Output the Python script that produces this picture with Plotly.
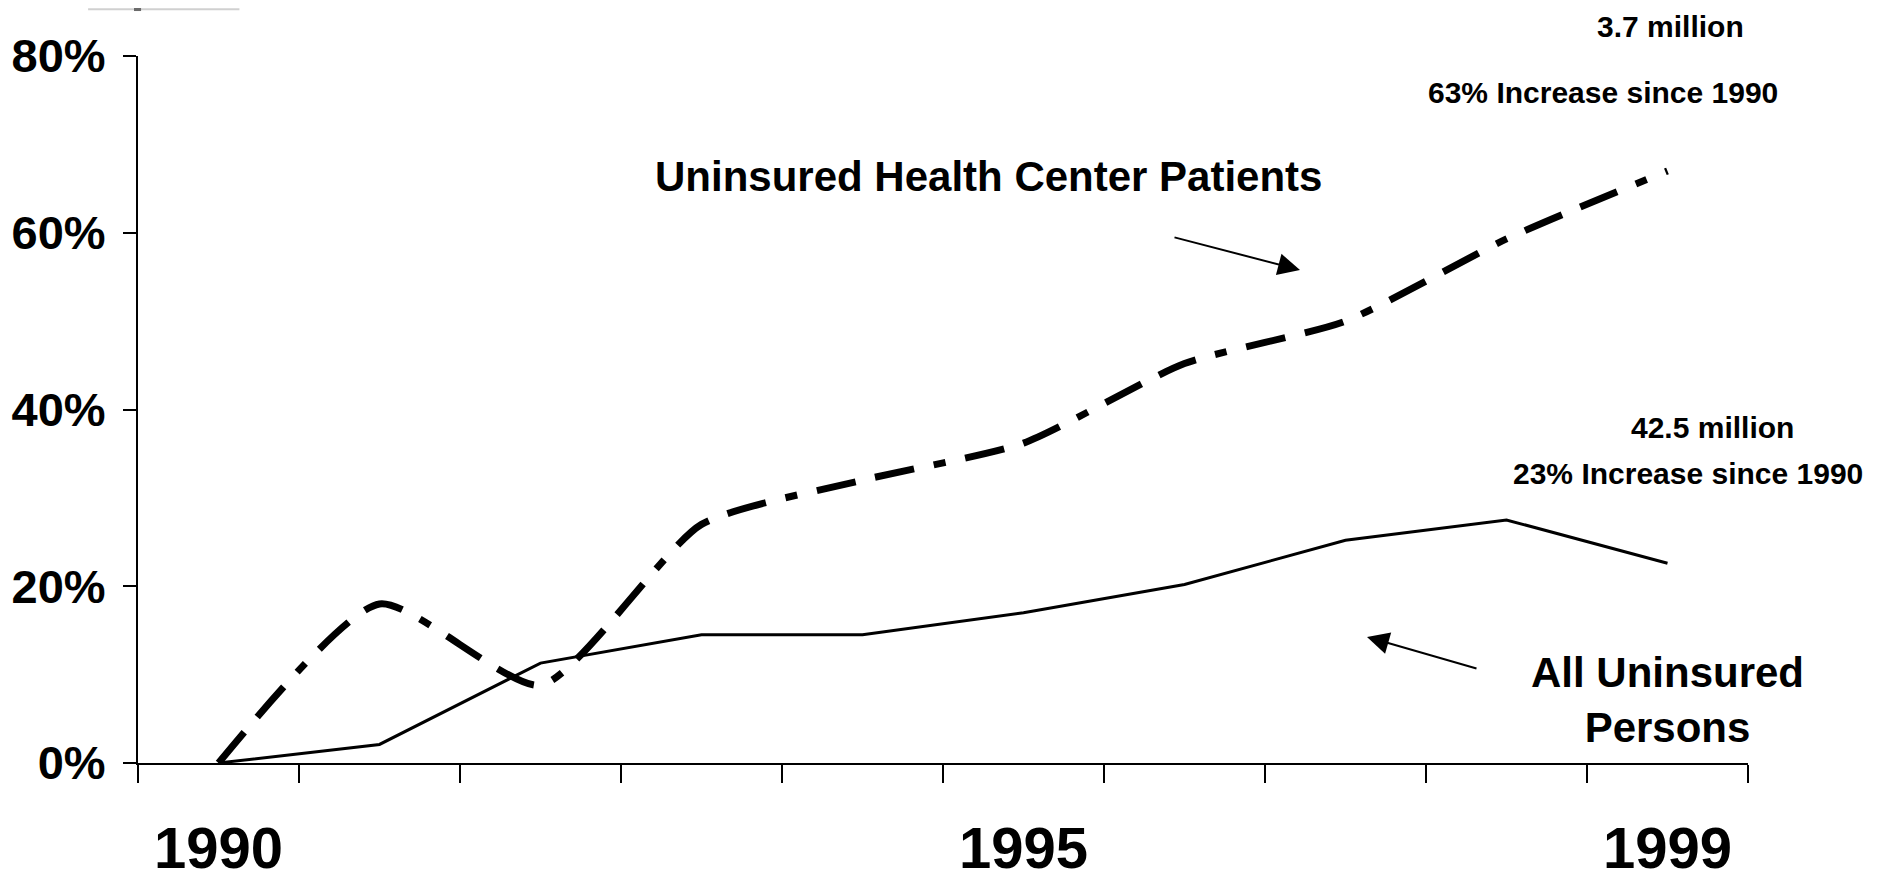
import plotly.graph_objects as go

years = list(range(1990, 2000))
health_center_patients = [0, 18.0, 8.8, 27.0, 32.0, 36.2, 45.2, 50.0, 59.3, 67.0]
all_uninsured = [0, 2.1, 11.3, 14.5, 14.5, 17.0, 20.2, 25.2, 27.5, 22.6]
x_tick_years = [1990, 1995, 1999]
y_ticks = [0, 20, 40, 60, 80]

FONT = "Arial, Liberation Sans, sans-serif"

fig = go.Figure()
fig.add_trace(go.Scatter(
    x=years, y=all_uninsured, mode="lines",
    line=dict(color="black", width=3), showlegend=False))
fig.add_trace(go.Scatter(
    x=years, y=health_center_patients, mode="lines",
    line=dict(color="black", width=7, dash="40px,20px,40px,20px,12px,20px",
              shape="spline", smoothing=0.6),
    showlegend=False))

fig.update_xaxes(
    range=[1989.5, 1999.5], showgrid=False, zeroline=False, automargin=False,
    showline=True, linecolor="black", linewidth=2,
    tickmode="array", tickvals=x_tick_years, ticktext=[str(v) for v in x_tick_years],
    ticks="outside", ticklen=33, tickcolor="rgba(0,0,0,0)",
    tickfont=dict(family=FONT, size=58, color="black", weight=700),
    minor=dict(tick0=1989.5, dtick=1, ticks="outside", ticklen=18,
               tickwidth=2, tickcolor="black", showgrid=False),
)
fig.update_yaxes(
    range=[0, 80], showgrid=False, zeroline=False, automargin=False,
    showline=True, linecolor="black", linewidth=2,
    tickmode="array", tickvals=y_ticks, ticktext=[f"{v}%" for v in y_ticks],
    ticks="outside", ticklen=13, tickwidth=2, tickcolor="black",
    ticklabelstandoff=8,
    tickfont=dict(family=FONT, size=47, color="black", weight=700),
)

def note(text, x, y, size):
    fig.add_annotation(text=text, x=x, y=y, xref="paper", yref="paper",
                       xanchor="center", yanchor="middle", showarrow=False,
                       font=dict(family=FONT, size=size, color="black", weight=700))

note("Uninsured Health Center Patients", 0.528, 0.829, 42)
note("3.7 million", 0.952, 1.042, 30)
note("63% Increase since 1990", 0.910, 0.949, 30)
note("42.5 million", 0.978, 0.475, 30)
note("23% Increase since 1990", 0.963, 0.409, 30)
note("All Uninsured<br>Persons", 0.950, 0.089, 42)

# arrows
fig.add_annotation(x=(1300 - 138) / 1610, y=(763 - 270) / 707, xref="paper", yref="paper",
                   ax=-127, ay=-33, text="", showarrow=True,
                   arrowhead=2, arrowsize=2.2, arrowwidth=2, arrowcolor="black")
fig.add_annotation(x=(1367 - 138) / 1610, y=(763 - 637) / 707, xref="paper", yref="paper",
                   ax=111, ay=32, text="", showarrow=True,
                   arrowhead=2, arrowsize=2.2, arrowwidth=2, arrowcolor="black")

# small grey artifacts at the top-left
fig.add_shape(type="line", xref="paper", yref="paper",
              x0=-0.031, x1=0.063, y0=1.066, y1=1.066,
              line=dict(color="#d0d0d0", width=2))
fig.add_shape(type="rect", xref="paper", yref="paper",
              x0=-0.0025, x1=0.0019, y0=1.0636, y1=1.085,
              line=dict(width=0), fillcolor="#6a6a6a")

# the page body adds an 8px offset, so margins are shifted to compensate
fig.update_layout(
    width=1879, height=877,
    margin=dict(l=130, r=139, t=48, b=122),
    paper_bgcolor="white", plot_bgcolor="white",
    font=dict(family=FONT, color="black"),
)

fig.write_html("out.html")
